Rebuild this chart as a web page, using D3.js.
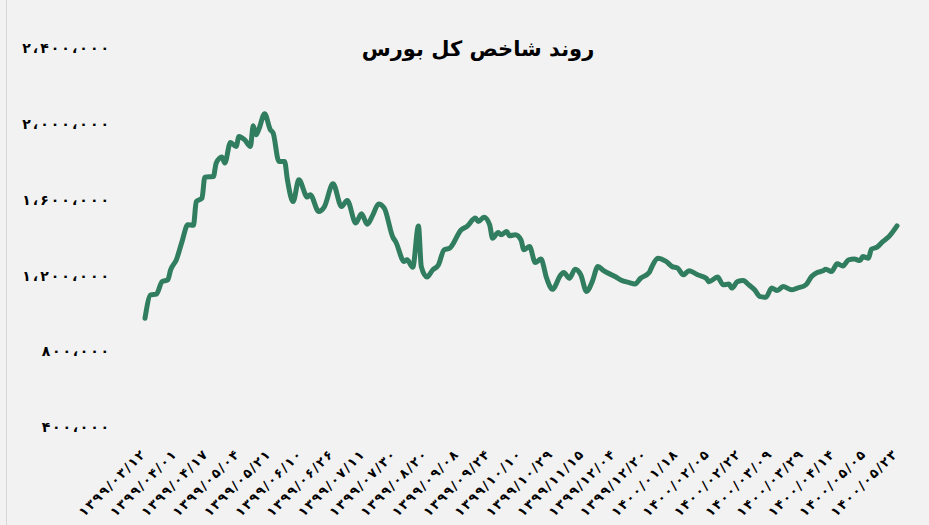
<!DOCTYPE html>
<html><head><meta charset="utf-8">
<script src="https://cdn.jsdelivr.net/npm/d3@7"></script>
<style>
html,body{margin:0;padding:0;background:#f2f2f2;}
svg{display:block;}
</style></head>
<body>
<svg id="chart" width="929" height="525"></svg>
<script>
const title = "روند شاخص کل بورس";
const tickDates = ["۱۳۹۹/۰۳/۱۲","۱۳۹۹/۰۴/۰۱","۱۳۹۹/۰۴/۱۷","۱۳۹۹/۰۵/۰۴","۱۳۹۹/۰۵/۲۱","۱۳۹۹/۰۶/۱۰","۱۳۹۹/۰۶/۲۶","۱۳۹۹/۰۷/۱۱","۱۳۹۹/۰۷/۳۰","۱۳۹۹/۰۸/۲۰","۱۳۹۹/۰۹/۰۸","۱۳۹۹/۰۹/۲۴","۱۳۹۹/۱۰/۱۰","۱۳۹۹/۱۰/۲۹","۱۳۹۹/۱۱/۱۵","۱۳۹۹/۱۲/۰۴","۱۳۹۹/۱۲/۲۰","۱۴۰۰/۰۱/۱۸","۱۴۰۰/۰۲/۰۵","۱۴۰۰/۰۲/۲۲","۱۴۰۰/۰۳/۰۹","۱۴۰۰/۰۳/۲۹","۱۴۰۰/۰۴/۱۴","۱۴۰۰/۰۵/۰۵","۱۴۰۰/۰۵/۲۳"];
const daysPerTick = 11;
const yTickValues = [400000, 800000, 1200000, 1600000, 2000000, 2400000];
const yTickLabels = ["۴۰۰،۰۰۰","۸۰۰،۰۰۰","۱،۲۰۰،۰۰۰","۱،۶۰۰،۰۰۰","۲،۰۰۰،۰۰۰","۲،۴۰۰،۰۰۰"];
// trading-day index of each sampled observation
const days = [0,2,4,6,8,9,11,13,15,17,18,20,21,24,25,27,28,30,32,33,35,37,38,39,40,42,44,45,47,49,50,52,54,57,58,61,63,66,69,71,74,76,78,80,82,84,87,88,91,92,94,96,97,99,101,103,105,107,111,113,116,117,119,121,122,124,125,127,128,130,132,133,135,137,139,141,143,146,147,149,151,153,155,157,159,161,165,167,170,172,174,177,178,180,183,185,187,189,191,194,197,198,201,203,205,206,208,210,212,214,216,218,220,222,224,227,229,232,234,236,238,239,241,243,245,247,249,251,252,254,255,257,259,261,264];
// index value
const values = [975000,1098000,1102000,1168000,1177000,1230000,1283000,1379000,1468000,1465000,1590000,1608000,1719000,1722000,1793000,1825000,1793000,1902000,1881000,1934000,1916000,1881000,1990000,1942000,1973000,2053000,1969000,1951000,1802000,1802000,1705000,1590000,1705000,1614000,1626000,1538000,1564000,1684000,1564000,1596000,1477000,1526000,1471000,1520000,1578000,1556000,1403000,1379000,1274000,1283000,1244000,1462000,1247000,1192000,1230000,1256000,1336000,1345000,1441000,1459000,1503000,1485000,1508000,1468000,1397000,1427000,1415000,1432000,1410000,1415000,1388000,1336000,1353000,1269000,1287000,1186000,1128000,1204000,1216000,1186000,1234000,1204000,1116000,1168000,1248000,1226000,1195000,1177000,1163000,1156000,1186000,1216000,1248000,1292000,1274000,1248000,1239000,1204000,1226000,1204000,1186000,1168000,1192000,1151000,1155000,1134000,1168000,1174000,1151000,1125000,1089000,1086000,1134000,1121000,1142000,1125000,1134000,1151000,1195000,1216000,1225000,1234000,1221000,1262000,1251000,1283000,1287000,1279000,1300000,1292000,1339000,1350000,1379000,1403000,1462000];

const data = days.map((d,i)=>({d, v: values[i]}));
const svg = d3.select("#chart");
const W = 929, H = 525;
const font = "'DejaVu Sans', sans-serif";

svg.append("rect").attr("width",W).attr("height",H).attr("fill","#f2f2f2");
svg.append("line").attr("x1",6.5).attr("x2",6.5).attr("y1",0).attr("y2",H)
  .attr("stroke","#d6d6d6").attr("stroke-width",1);

const lastDay = (tickDates.length-1)*daysPerTick;
const x = d3.scaleLinear().domain([0,lastDay]).range([145,897]);
const y = d3.scaleLinear().domain([400000,2400000]).range([427.3,48]);

// Y axis
const yAxis = d3.axisLeft(y).tickValues(yTickValues)
  .tickFormat(d=>yTickLabels[yTickValues.indexOf(d)]).tickSize(0).tickPadding(0);
const gy = svg.append("g").attr("transform","translate(109,0)").call(yAxis);
gy.select(".domain").remove();
gy.selectAll("text").attr("font-family",font).attr("font-size",14).attr("font-weight","bold")
  .attr("fill","#000").attr("direction","ltr")
  .attr("lengthAdjust","spacing")
  .attr("textLength",function(){ return this.textContent.length*9.75 - 1; });

// X axis
const xAxis = d3.axisBottom(x).tickValues(tickDates.map((_,i)=>i*daysPerTick))
  .tickFormat((d,i)=>tickDates[i]).tickSize(0);
const gx = svg.append("g").attr("transform","translate(-4,446)").call(xAxis);
gx.select(".domain").remove();
gx.selectAll(".tick text")
  .attr("font-family",font).attr("font-size",13).attr("font-weight","bold").attr("fill","#000")
  .attr("direction","ltr")
  .attr("lengthAdjust","spacing").attr("textLength",87)
  .attr("text-anchor","end").attr("y",0).attr("dy","0.75em").attr("x",-4)
  .attr("transform","rotate(-45)");

// Line
const line = d3.line().x(d=>x(d.d)).y(d=>y(d.v)).curve(d3.curveMonotoneX);
svg.append("path").datum(data).attr("d",line)
  .attr("fill","none").attr("stroke","#317d5f").attr("stroke-width",5)
  .attr("stroke-linejoin","round").attr("stroke-linecap","round");

// Title
svg.append("text").attr("x",478).attr("y",56).attr("text-anchor","middle")
  .attr("font-family",font).attr("font-size",21).attr("font-weight","bold").attr("fill","#000")
  .text(title);
</script>
</body></html>
